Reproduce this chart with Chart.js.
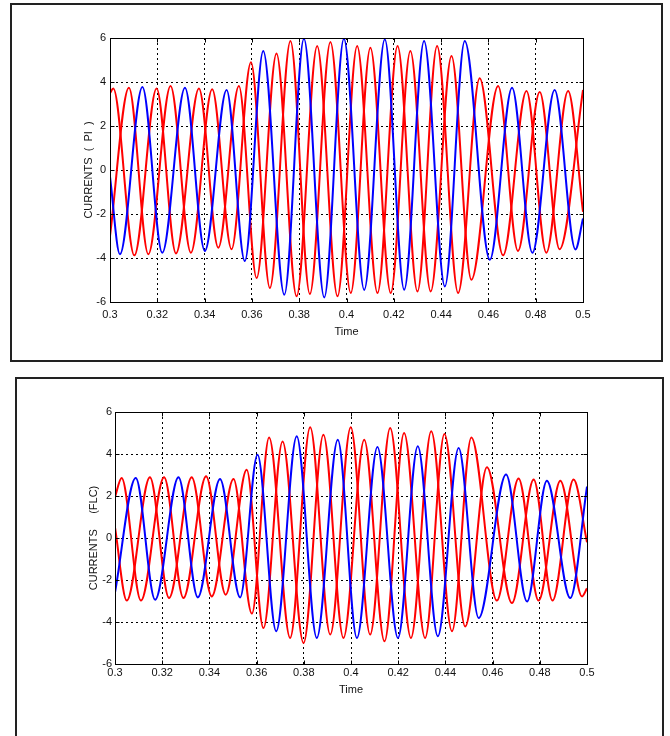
<!DOCTYPE html>
<html>
<head>
<meta charset="utf-8">
<script src="https://cdn.jsdelivr.net/npm/chart.js@4.4.1/dist/chart.umd.min.js"></script>
<style>
  html, body { margin: 0; padding: 0; background: #fff; }
  body { position: relative; width: 670px; height: 736px; overflow: hidden; }
  .box { position: absolute; border: 2px solid #222; box-sizing: border-box; }
  #boxPI { left: 10px; top: 3px; width: 653px; height: 359px; }
  #boxFLC { left: 15px; top: 377px; width: 649px; height: 380px; }
  canvas { position: absolute; left: 0; }
  #chartPI { top: 0; }
  #chartFLC { top: 372px; }
</style>
</head>
<body>
<div class="box" id="boxPI"></div>
<div class="box" id="boxFLC"></div>
<canvas id="chartPI" width="670" height="370"></canvas>
<canvas id="chartFLC" width="670" height="364"></canvas>
<script>
// axis ticks
const timeTicks = [0.3, 0.32, 0.34, 0.36, 0.38, 0.4, 0.42, 0.44, 0.46, 0.48, 0.5];
const timeLabels = ["0.3", "0.32", "0.34", "0.36", "0.38", "0.4", "0.42", "0.44", "0.46", "0.48", "0.5"];
const currentTicks = [-6, -4, -2, 0, 2, 4, 6];

// PI controller - peaks / troughs (time, current)
const piBlueT = [0.3, 0.3042, 0.3137, 0.3221, 0.3317, 0.3401, 0.3493, 0.357, 0.3648, 0.3737, 0.382, 0.3906, 0.3989,
  0.4075, 0.4162, 0.4244, 0.4328, 0.4416, 0.45, 0.4606, 0.47, 0.4786, 0.488, 0.4968, 0.5];
const piBlueI = [-0.3, -3.83, 3.77, -3.76, 3.74, -3.68, 3.64, -4.14, 5.41, -5.67, 5.97, -5.79, 5.97,
  -5.45, 5.94, -5.44, 5.86, -5.29, 5.86, -4.08, 3.74, -3.76, 3.64, -3.61, -2.2];

const piRedAT = [0.3, 0.3014, 0.3103, 0.3197, 0.3279, 0.3376, 0.3458, 0.3545, 0.362, 0.3704, 0.3789, 0.3876, 0.3962,
  0.4045, 0.4131, 0.4216, 0.43, 0.4383, 0.4472, 0.4563, 0.4662, 0.4761, 0.4845, 0.4937, 0.5];
const piRedAI = [3.5, 3.7, -3.88, 3.71, -3.79, 3.71, -3.53, 3.82, -4.91, 5.3, -5.74, 5.64, -5.74,
  5.64, -5.59, 5.64, -5.52, 5.64, -5.59, 4.17, -3.88, 3.59, -3.76, 3.59, -1.9];

const piRedBT = [0.3, 0.308, 0.3162, 0.3256, 0.3342, 0.3432, 0.3514, 0.3596, 0.3676, 0.3763, 0.3845, 0.3932,
  0.4018, 0.4101, 0.4187, 0.427, 0.4356, 0.4444, 0.4528, 0.4641, 0.4725, 0.4817, 0.4901, 0.5];
const piRedBI = [-3.0, 3.74, -3.83, 3.82, -3.76, 3.67, -3.6, 4.9, -5.36, 5.86, -5.64, 5.82,
  -5.59, 5.56, -5.59, 5.41, -5.52, 5.18, -4.99, 3.82, -3.68, 3.55, -3.6, 3.64];

// FLC controller
const flcBlueT = [0.3, 0.3088, 0.317, 0.3269, 0.3351, 0.3445, 0.353, 0.3604, 0.3683, 0.377, 0.3855, 0.3944,
  0.4025, 0.4112, 0.4199, 0.4283, 0.4368, 0.4456, 0.4541, 0.4657, 0.4746, 0.483, 0.4929, 0.5];
const flcBlueI = [-2.6, 2.86, -2.94, 2.89, -2.83, 2.81, -2.83, 3.97, -4.44, 4.84, -4.76, 4.68,
  -4.76, 4.33, -4.76, 4.37, -4.68, 4.29, -3.81, 3.02, -3.02, 2.73, -2.86, 2.45];

const flcRedAT = [0.3, 0.3028, 0.311, 0.3208, 0.329, 0.3386, 0.3469, 0.3558, 0.3629, 0.371, 0.3799, 0.3883, 0.3968,
  0.4056, 0.4142, 0.4225, 0.4314, 0.4396, 0.4484, 0.4576, 0.4682, 0.4774, 0.4854, 0.4943, 0.5];
const flcRedAI = [1.95, 2.86, -2.98, 2.89, -2.86, 2.94, -2.7, 3.25, -4.29, 4.6, -5.0, 4.92, -4.76,
  4.68, -4.92, 5.0, -4.76, 4.95, -4.21, 3.37, -3.1, 2.78, -2.98, 2.78, -0.2];

const flcRedBT = [0.3, 0.305, 0.3148, 0.3229, 0.3325, 0.341, 0.3502, 0.358, 0.3653, 0.3742, 0.3827, 0.3912, 0.3999,
  0.4081, 0.4166, 0.4254, 0.434, 0.4428, 0.451, 0.4618, 0.471, 0.4795, 0.4887, 0.4979, 0.5];
const flcRedBI = [0.5, -2.98, 2.89, -2.86, 2.89, -2.78, 2.81, -3.6, 4.79, -4.76, 5.27, -4.6, 5.27,
  -4.6, 5.24, -4.76, 5.08, -4.44, 4.79, -2.98, 2.83, -2.98, 2.73, -2.78, -2.4];

Chart.defaults.font.family = "'Liberation Sans', Arial, sans-serif";
Chart.defaults.font.size = 11;
Chart.defaults.color = "#111";

// solid box round the plot + small inward ticks like matlab
const framePlugin = {
  id: "frame",
  afterDatasetsDraw(chart) {
    const {ctx, chartArea: a, scales} = chart;
    const l = Math.round(a.left) + 0.5, r = Math.round(a.right) + 0.5;
    const t = Math.round(a.top) + 0.5, b = Math.round(a.bottom) + 0.5;
    ctx.save();
    ctx.setLineDash([]);
    ctx.strokeStyle = "#000";
    ctx.lineWidth = 1;
    ctx.strokeRect(l, t, r - l, b - t);
    ctx.beginPath();
    scales.x.ticks.forEach(tk => {
      const x = Math.round(scales.x.getPixelForValue(tk.value)) + 0.5;
      ctx.moveTo(x, b); ctx.lineTo(x, b - 4);
      ctx.moveTo(x, t); ctx.lineTo(x, t + 4);
    });
    scales.y.ticks.forEach(tk => {
      const y = Math.round(scales.y.getPixelForValue(tk.value)) + 0.5;
      ctx.moveTo(l, y); ctx.lineTo(l + 4, y);
      ctx.moveTo(r, y); ctx.lineTo(r - 4, y);
    });
    ctx.stroke();
    ctx.restore();
  }
};

function toPoints(ts, vals) {
  return ts.map((t, i) => ({x: t, y: vals[i]}));
}

function makeChart(id, series, yTitle, lay) {
  const datasets = series.map(s => ({
    data: toPoints(s.t, s.v),
    borderColor: s.color,
    borderWidth: 2,
    pointRadius: 0,
    fill: false,
    cubicInterpolationMode: "monotone"
  }));

  return new Chart(document.getElementById(id), {
    type: "line",
    data: {datasets: datasets},
    plugins: [framePlugin],
    options: {
      responsive: false,
      animation: false,
      events: [],
      layout: {padding: lay.padding},
      plugins: {legend: {display: false}, tooltip: {enabled: false}},
      scales: {
        x: {
          type: "linear",
          min: 0.3,
          max: 0.5,
          afterBuildTicks: sc => { sc.ticks = timeTicks.map(v => ({value: v})); },
          afterFit: sc => { sc.height = 40; },
          ticks: {
            padding: lay.xTickPad,
            maxRotation: 0,
            autoSkip: false,
            callback: (v, i) => timeLabels[i]
          },
          grid: {color: "#000", lineWidth: 1, drawTicks: false},
          border: {display: true, color: "#000", width: 1, dash: [2, 3]},
          title: {display: true, text: "Time", padding: {top: 0, bottom: lay.xTitlePad}}
        },
        y: {
          min: -6,
          max: 6,
          afterBuildTicks: sc => { sc.ticks = currentTicks.map(v => ({value: v})); },
          afterFit: sc => { sc.width = 30; },
          ticks: {padding: lay.yTickPad, callback: v => String(v)},
          grid: {color: "#000", lineWidth: 1, drawTicks: false},
          border: {display: true, color: "#000", width: 1, dash: [2, 3]},
          title: {display: true, text: yTitle, padding: {top: 2, bottom: 0}}
        }
      }
    }
  });
}

makeChart("chartPI", [
  {t: piBlueT, v: piBlueI, color: "#0000ff"},
  {t: piRedAT, v: piRedAI, color: "#ff0000"},
  {t: piRedBT, v: piRedBI, color: "#ff0000"}
], "CURRENTS  (  PI  )", {
  padding: {left: 80, right: 87, top: 38, bottom: 28},
  xTickPad: 6, xTitlePad: 3, yTickPad: 4
});

makeChart("chartFLC", [
  {t: flcBlueT, v: flcBlueI, color: "#0000ff"},
  {t: flcRedAT, v: flcRedAI, color: "#ff0000"},
  {t: flcRedBT, v: flcRedBI, color: "#ff0000"}
], "CURRENTS     (FLC)", {
  padding: {left: 85, right: 83, top: 40, bottom: 32},
  xTickPad: 2, xTitlePad: 7, yTickPad: 3
});
</script>
</body>
</html>
